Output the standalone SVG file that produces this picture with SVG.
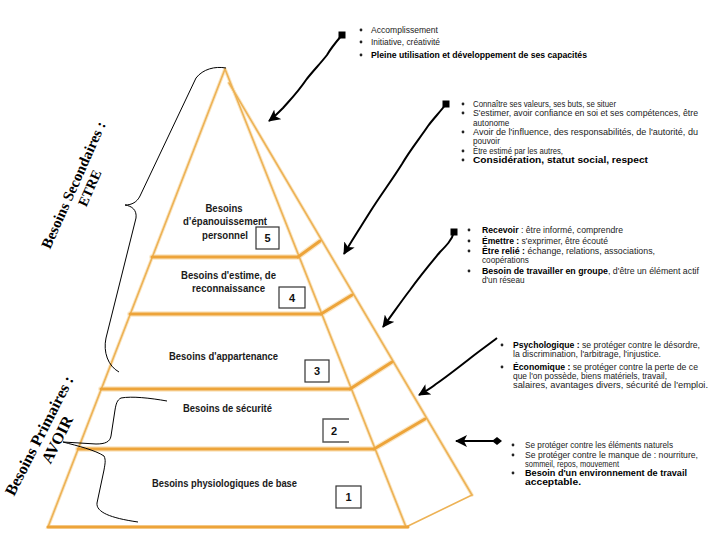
<svg xmlns="http://www.w3.org/2000/svg" width="720" height="540" viewBox="0 0 720 540">
<style>
  .glow { stroke: #FAE6C4; fill: none; stroke-linecap: round; }
  .edge { stroke: #EDB255; stroke-width: 1.6; fill: none; stroke-linecap: round; }
  .bar { stroke: #EDA43A; stroke-width: 3; fill: none; stroke-linecap: round; }
  .pl { font-family: "Liberation Sans", Arial, sans-serif; font-weight: bold; font-size: 11px; fill: #1a1a1a; text-anchor: middle; }
  .box { fill: #fff; stroke: #333; stroke-width: 1.2; }
  .num { font-family: "Liberation Sans", Arial, sans-serif; font-weight: bold; font-size: 11px; fill: #111; text-anchor: middle; }
  .t { font-family: "Liberation Sans", Arial, sans-serif; font-size: 8.2px; fill: #222; }
  .b { font-weight: bold; fill: #000; }
  .bul { fill: #222; }
  .brace { stroke: #000; stroke-width: 1; fill: none; }
  .side { font-family: "Liberation Serif", "Times New Roman", serif; font-weight: bold; fill: #000; text-anchor: middle; }
  .arr { stroke: #000; stroke-width: 2; fill: none; stroke-linejoin: round; }
</style>
<defs>
  <marker id="head" markerUnits="userSpaceOnUse" markerWidth="14" markerHeight="12" refX="11" refY="6" orient="auto">
    <path d="M0,0 L12,6 L0,12 L3,6 Z" fill="#000"/>
  </marker>
  <marker id="sq" markerUnits="userSpaceOnUse" markerWidth="8" markerHeight="8" refX="4" refY="4" orient="0">
    <rect x="0.5" y="0.5" width="7" height="7" fill="#000"/>
  </marker>
  <marker id="dia" markerUnits="userSpaceOnUse" markerWidth="10" markerHeight="10" refX="5" refY="5" orient="auto">
    <path d="M0,5 L5,1 L10,5 L5,9 Z" fill="#000"/>
  </marker>
</defs>
<rect width="720" height="540" fill="#fff"/>

<!-- Pyramid frame -->
<g id="pyramid">
  <g class="glow" stroke-width="3.5">
    <path d="M225,69 L48,527 L406,527 L225,69"/>
    <path d="M229,83 L472,495"/>
  </g>
  <g class="glow" stroke-width="5.5">
    <path d="M152,257 L298,257 L320,241"/>
    <path d="M130,314 L321,314 L352,295"/>
    <path d="M101,389 L350,389 L392,362"/>
    <path d="M78,449 L374,449 L425,419"/>
  </g>
  <path class="edge" d="M225,69 L48,527"/>
  <path class="edge" d="M225,69 L406,527"/>
  <path class="edge" d="M229,83 L472,495"/>
  <path class="edge" d="M406,527 L472,495" stroke="#F2D6A8" stroke-width="1"/>
  <path class="bar" d="M48,527 L408,527" stroke-width="2.2"/>
  <path class="bar" d="M152,257 L298,257"/>
  <path class="bar" d="M298,257 L320,241" stroke-width="2.2"/>
  <path class="bar" d="M130,314 L321,314"/>
  <path class="bar" d="M321,314 L352,295" stroke-width="2.5"/>
  <path class="bar" d="M101,389 L350,389"/>
  <path class="bar" d="M350,389 L392,362"/>
  <path class="bar" d="M78,449 L374,449"/>
  <path class="bar" d="M374,449 L425,419"/>
</g>

<g id="level-5">
  <text class="pl" x="224" y="212" textLength="37" lengthAdjust="spacingAndGlyphs">Besoins</text>
  <text class="pl" x="225" y="225" textLength="84" lengthAdjust="spacingAndGlyphs">d’épanouissement</text>
  <text class="pl" x="225" y="239" textLength="46" lengthAdjust="spacingAndGlyphs">personnel</text>
  <rect class="box" x="256" y="227" width="23" height="22"/>
  <text class="num" x="267.5" y="242">5</text>
</g>
<g id="level-4">
  <text class="pl" x="228.5" y="279" textLength="95" lengthAdjust="spacingAndGlyphs">Besoins d'estime, de</text>
  <text class="pl" x="228.5" y="292" textLength="73" lengthAdjust="spacingAndGlyphs">reconnaissance</text>
  <rect class="box" x="279" y="287" width="26" height="21"/>
  <text class="num" x="292" y="302">4</text>
</g>
<g id="level-3">
  <text class="pl" x="223.5" y="360" textLength="109" lengthAdjust="spacingAndGlyphs">Besoins d'appartenance</text>
  <rect class="box" x="305" y="360" width="24" height="22"/>
  <text class="num" x="317" y="375">3</text>
</g>
<g id="level-2">
  <text class="pl" x="227.5" y="412" textLength="89" lengthAdjust="spacingAndGlyphs">Besoins de sécurité</text>
  <path d="M349,419 L323,419 L323,442 L349,442" fill="#fff" stroke="#555" stroke-width="1.4"/>
  <text class="num" x="334" y="435">2</text>
</g>
<g id="level-1">
  <text class="pl" x="224.5" y="487" textLength="145" lengthAdjust="spacingAndGlyphs">Besoins physiologiques de base</text>
  <rect class="box" x="336" y="486" width="25" height="22"/>
  <text class="num" x="348.5" y="501">1</text>
</g>

<!-- Braces and side labels -->
<g id="brace-secondaires">
  <path class="brace" d="M226,68 C215,66 203,69 196,78 L140,196 C137,202 132,205 125,205 C132,206 137,210 136,218 L106,338 C103,352 108,366 119,372"/>
  <text class="side" font-size="15" transform="translate(78,187) rotate(-66)">Besoins Secondaires :</text>
  <text class="side" font-size="14" font-weight="normal" transform="translate(94,190) rotate(-66)">ETRE</text>
</g>
<g id="brace-primaires">
  <path class="brace" d="M167,401 C150,398 132,396 121,398 C117,400 116,404 115,410 L111,436 C110,442 105,444 96,444 L63,442 C78,446 95,450 104,456 C106,460 105,464 104,470 L97,503 C96,512 110,518 138,522"/>
  <text class="side" font-size="16" transform="translate(44,438) rotate(-63)">Besoins Primaires :</text>
  <text class="side" font-size="16" transform="translate(62,442) rotate(-63)">AVOIR</text>
</g>

<!-- Text blocks -->
<g id="block-5">
  <circle class="bul" cx="361" cy="30" r="1.4"/>
  <circle class="bul" cx="361" cy="42" r="1.4"/>
  <circle class="bul" cx="361" cy="55" r="1.4"/>
  <text class="t" x="371" y="33" textLength="67" lengthAdjust="spacingAndGlyphs">Accomplissement</text>
  <text class="t" x="371" y="45" textLength="69" lengthAdjust="spacingAndGlyphs">Initiative, créativité</text>
  <text class="t b" x="371" y="58" textLength="216" lengthAdjust="spacingAndGlyphs">Pleine utilisation et développement de ses capacités</text>
</g>
<g id="block-4">
  <circle class="bul" cx="463" cy="104" r="1.4"/>
  <circle class="bul" cx="463" cy="113" r="1.4"/>
  <circle class="bul" cx="463" cy="132" r="1.4"/>
  <circle class="bul" cx="463" cy="151" r="1.4"/>
  <circle class="bul" cx="463" cy="160" r="1.4"/>
  <text class="t" x="473" y="107" textLength="143" lengthAdjust="spacingAndGlyphs">Connaître ses valeurs, ses buts, se situer</text>
  <text class="t" x="473" y="116" textLength="225" lengthAdjust="spacingAndGlyphs">S'estimer, avoir confiance en soi et ses compétences, être</text>
  <text class="t" x="473" y="126">autonome</text>
  <text class="t" x="473" y="135" textLength="225" lengthAdjust="spacingAndGlyphs">Avoir de l'influence, des responsabilités, de l'autorité, du</text>
  <text class="t" x="473" y="144">pouvoir</text>
  <text class="t" x="473" y="154" textLength="90" lengthAdjust="spacingAndGlyphs">Être estimé par les autres,</text>
  <text class="t b" x="473" y="163" textLength="175" lengthAdjust="spacingAndGlyphs">Considération, statut social, respect</text>
</g>
<g id="block-3">
  <circle class="bul" cx="469" cy="230" r="1.4"/>
  <circle class="bul" cx="469" cy="241" r="1.4"/>
  <circle class="bul" cx="469" cy="251" r="1.4"/>
  <circle class="bul" cx="469" cy="271" r="1.4"/>
  <text class="t" x="482" y="233" textLength="141" lengthAdjust="spacingAndGlyphs"><tspan class="b">Recevoir</tspan> : être informé, comprendre</text>
  <text class="t" x="482" y="244" textLength="126" lengthAdjust="spacingAndGlyphs"><tspan class="b">Émettre :</tspan> s'exprimer, être écouté</text>
  <text class="t" x="482" y="254" textLength="173" lengthAdjust="spacingAndGlyphs"><tspan class="b">Être relié :</tspan> échange, relations, associations,</text>
  <text class="t" x="482" y="263">coopérations</text>
  <text class="t" x="482" y="274" textLength="217" lengthAdjust="spacingAndGlyphs"><tspan class="b">Besoin de travailler en groupe</tspan>, d'être un élément actif</text>
  <text class="t" x="482" y="283">d'un réseau</text>
</g>
<g id="block-2">
  <circle class="bul" cx="502" cy="345" r="1.4"/>
  <circle class="bul" cx="502" cy="367" r="1.4"/>
  <text class="t" x="513" y="348" textLength="187" lengthAdjust="spacingAndGlyphs"><tspan class="b">Psychologique :</tspan> se protéger contre le désordre,</text>
  <text class="t" x="513" y="357" textLength="148" lengthAdjust="spacingAndGlyphs">la discrimination, l'arbitrage, l'injustice.</text>
  <text class="t" x="513" y="370" textLength="185" lengthAdjust="spacingAndGlyphs"><tspan class="b">Économique :</tspan> se protéger contre la perte de ce</text>
  <text class="t" x="513" y="379" textLength="154" lengthAdjust="spacingAndGlyphs">que l'on possède, biens matériels, travail,</text>
  <text class="t" x="513" y="388" textLength="195" lengthAdjust="spacingAndGlyphs">salaires, avantages divers, sécurité de l'emploi.</text>
</g>
<g id="block-1">
  <circle class="bul" cx="513" cy="445" r="1.4"/>
  <circle class="bul" cx="513" cy="455" r="1.4"/>
  <circle class="bul" cx="513" cy="473" r="1.4"/>
  <text class="t" x="525" y="448" textLength="148" lengthAdjust="spacingAndGlyphs">Se protéger contre les éléments naturels</text>
  <text class="t" x="525" y="458" textLength="173" lengthAdjust="spacingAndGlyphs">Se protéger contre le manque de : nourriture,</text>
  <text class="t" x="525" y="467" textLength="94" lengthAdjust="spacingAndGlyphs">sommeil, repos, mouvement</text>
  <text class="t b" x="525" y="476" textLength="162" lengthAdjust="spacingAndGlyphs">Besoin d'un environnement de travail</text>
  <text class="t b" x="525" y="485" textLength="56" lengthAdjust="spacingAndGlyphs">acceptable.</text>
</g>

<!-- Connectors -->
<g id="connectors">
  <path class="arr" d="M342,35 C336,42 331,48 327,55 C320,64 312,72 306,80 C298,92 290,100 283,108 C278,113 273,118 269,121" marker-start="url(#sq)" marker-end="url(#head)"/>
  <path class="arr" d="M446,104 C440,112 434,118 428,126 C420,138 410,150 402,164 C392,180 380,196 370,212 C360,228 352,240 344,254" marker-start="url(#sq)" marker-end="url(#head)"/>
  <path class="arr" d="M454,232 C452,240 446,246 440,252 C430,264 420,276 410,290 C400,303 392,315 383,327" marker-start="url(#sq)" marker-end="url(#head)"/>
  <path class="arr" d="M497,338 C488,345 478,352 468,360 C455,370 445,378 436,384 C430,389 424,392 419,395" marker-end="url(#head)"/>
  <path class="arr" d="M497,441 L456,441" marker-start="url(#dia)" marker-end="url(#head)"/>
</g>
</svg>
